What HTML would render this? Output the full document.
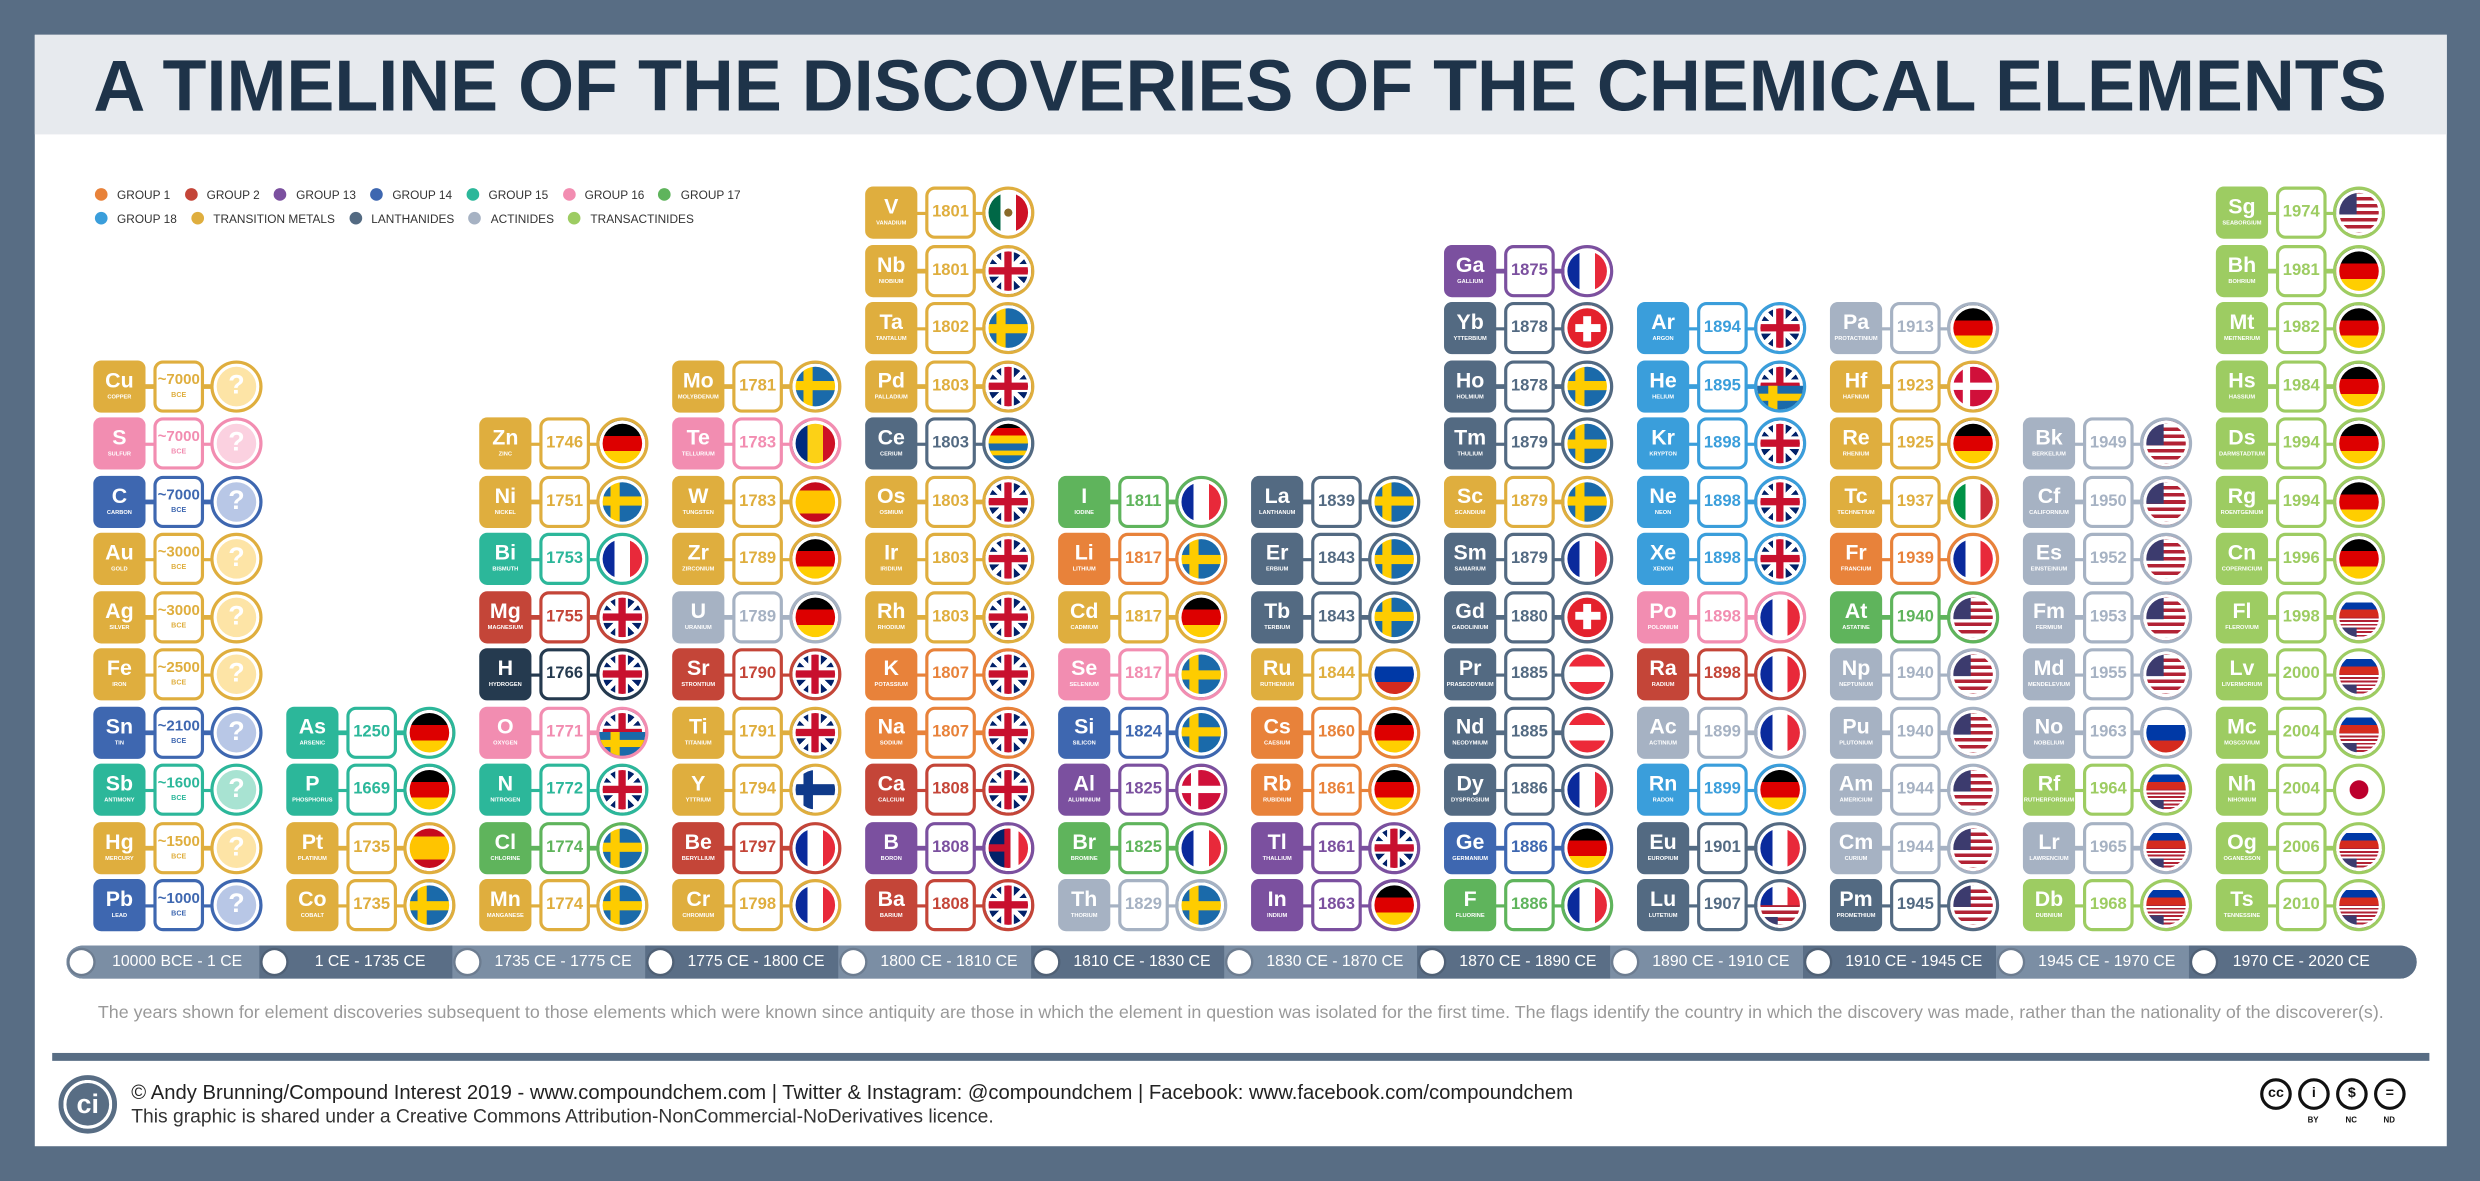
<!DOCTYPE html>
<html><head><meta charset="utf-8"><style>
*{margin:0;padding:0;box-sizing:border-box}
html,body{width:2480px;height:1181px;overflow:hidden;background:#586d84}
#st{position:absolute;left:0;top:0;width:1568px;height:747px;transform:scale(1.58163,1.581);transform-origin:0 0;font-family:"Liberation Sans",sans-serif}
#panel{position:absolute;left:22px;top:22px;width:1525px;height:703px;background:#fff}
#tb{position:absolute;left:22px;top:22px;width:1525px;height:63px;background:#e7eaee}
.leg{position:absolute;left:60px;font-size:7.5px;color:#333;white-space:nowrap}
.leg span{display:inline-block;margin-right:9px}
.leg span:before{content:"";display:inline-block;width:8px;height:8px;border-radius:50%;background:var(--c);vertical-align:-1px;margin-right:6px}
.col{position:absolute;bottom:158px;display:flex;flex-direction:column;gap:3.5px;width:108px}
.e{position:relative;height:33px;width:108px}
.e:before{content:"";position:absolute;left:30px;right:30px;top:15.5px;height:2.5px;background:var(--c)}
.e b{position:absolute;left:0;top:0;width:33px;height:33px;border-radius:5px;background:var(--c);color:#fff;text-align:center;font-size:13.5px;line-height:13px;padding-top:6px;font-weight:bold;font-family:"Liberation Sans Narrow","Liberation Sans",sans-serif}
.e b i{display:block;font-style:normal;font-size:3.6px;line-height:5px;margin-top:2px;letter-spacing:0;white-space:nowrap;overflow:hidden}
.e em{position:absolute;left:38px;top:0;width:32px;height:33px;border:2.3px solid var(--c);border-radius:6px;background:#fff;color:var(--c);font-style:normal;font-weight:bold;text-align:center;font-size:10.5px;line-height:28px;font-family:"Liberation Sans Narrow","Liberation Sans",sans-serif}
.e em.b{line-height:10px;padding-top:6px;font-size:9.5px}
.e em i{display:block;font-style:normal;font-size:4.5px;line-height:7px}
.f{position:absolute;left:74px;top:0;width:33px;height:33px;border-radius:50%;border:2.3px solid var(--c);box-shadow:inset 0 0 0 2px #fff;overflow:hidden;background:#ddd}
.f.h:after{content:"";position:absolute;left:0;right:0;bottom:0;height:50%;z-index:-1}
.f.h{isolation:isolate}
.q{color:#fff;font-weight:bold;font-size:17px;text-align:center;line-height:28px;background:var(--l)}
.tm{--c:#dfae3e;--l:#fde4a6}.t1{--c:#e8823a}.t2{--c:#c44538}.t13{--c:#7b509f}.t14{--c:#3e67b0;--l:#b8c7e6}.t15{--c:#2cb79a;--l:#a8e3d2}.t16{--c:#f28db1;--l:#fbd1e0}.t17{--c:#5fb45c}.t18{--c:#3a9edb}.ln{--c:#536a82}.ac{--c:#a6b2c3}.tr{--c:#9dcc62}.hy{--c:#253a4f}
.uk{background:linear-gradient(#c8102e,#c8102e) center/100% 16% no-repeat,linear-gradient(#c8102e,#c8102e) center/16% 100% no-repeat,linear-gradient(#fff,#fff) center/100% 28% no-repeat,linear-gradient(#fff,#fff) center/28% 100% no-repeat,linear-gradient(45deg,transparent 46%,#fff 46% 54%,transparent 54%),linear-gradient(-45deg,transparent 46%,#fff 46% 54%,transparent 54%),#012169}
.se{background:linear-gradient(#fecc00,#fecc00) 0 50%/100% 20% no-repeat,linear-gradient(#fecc00,#fecc00) 30% 0/20% 100% no-repeat,#1a6aaa}
.fi{background:linear-gradient(#0f3a8a,#0f3a8a) 0 50%/100% 24% no-repeat,linear-gradient(#0f3a8a,#0f3a8a) 30% 0/22% 100% no-repeat,#fff}
.dk{background:linear-gradient(#fff,#fff) 0 50%/100% 16% no-repeat,linear-gradient(#fff,#fff) 32% 0/16% 100% no-repeat,#d0103a}
.ch{background:linear-gradient(#fff,#fff) center/55% 18% no-repeat,linear-gradient(#fff,#fff) center/18% 55% no-repeat,#e4212c}
.de{background:linear-gradient(#000 33.3%,#dd0000 33.3% 66.6%,#ffce00 66.6%)}
.fr{background:linear-gradient(90deg,#0a2a9c 33.3%,#fff 33.3% 66.6%,#e8293a 66.6%)}
.it{background:linear-gradient(90deg,#009246 33.3%,#fff 33.3% 66.6%,#ce2b37 66.6%)}
.mx{background:radial-gradient(circle,#8a6a2a 12%,transparent 13%),linear-gradient(90deg,#006847 33.3%,#fff 33.3% 66.6%,#ce1126 66.6%)}
.ro{background:linear-gradient(90deg,#002b7f 33.3%,#fcd116 33.3% 66.6%,#ce1126 66.6%)}
.ru{background:linear-gradient(#fff 33.3%,#0039a6 33.3% 66.6%,#d52b1e 66.6%)}
.at{background:linear-gradient(#ed2939 33.3%,#fff 33.3% 66.6%,#ed2939 66.6%)}
.es{background:linear-gradient(#c60b1e 25%,#ffc400 25% 75%,#c60b1e 75%)}
.us{background:linear-gradient(#3c3b6e,#3c3b6e) 0 0/45% 54% no-repeat,repeating-linear-gradient(#b22234 0 7.7%,#fff 7.7% 15.4%)}
.jp{background:radial-gradient(circle,#bc002d 28%,#fff 30%)}
.rs{background:linear-gradient(#fff 0 17%,#0039a6 17% 33%,#d52b1e 33% 50%,transparent 50%),linear-gradient(#3c3b6e,#3c3b6e) 0 100%/45% 27% no-repeat,repeating-linear-gradient(#b22234 0 4%,#fff 4% 8%)}
.hse:after{background:linear-gradient(#fecc00,#fecc00) 0 50%/100% 30% no-repeat,linear-gradient(#fecc00,#fecc00) 30% 0/20% 100% no-repeat,#1a6aaa}
.bfr{background:linear-gradient(90deg,transparent 55%,#fff 55% 72%,#e8293a 72%),linear-gradient(#c8102e,#c8102e) center/100% 16% no-repeat,linear-gradient(#c8102e,#c8102e) center/16% 100% no-repeat,#012169}
.lus{background:linear-gradient(90deg,#0a2a9c 33.3%,#fff 33.3% 66.6%,#e8293a 66.6%) 0 0/100% 50% no-repeat,linear-gradient(#3c3b6e,#3c3b6e) 0 100%/45% 25% no-repeat,repeating-linear-gradient(#b22234 0 7.7%,#fff 7.7% 15.4%)}
#tl{position:absolute;left:42px;top:598px;width:1486px;height:21px;border-radius:11px;background:#5a6e86;overflow:hidden}
.sg{position:absolute;top:0;height:21px;width:122px;color:#fff;font-family:"Liberation Sans Narrow","Liberation Sans",sans-serif;font-size:10px;line-height:21px;text-align:center;padding-left:18px}
.sg.l{background:#7b8ea4}
.sg.d{background:#5a6e86}
.sg:before{content:"";position:absolute;left:2px;top:3px;width:15px;height:15px;border-radius:50%;background:#fff;box-shadow:0 0 0 1.5px rgba(0,0,0,.12)}
#note{position:absolute;left:22px;width:1525px;top:635px;text-align:center;font-size:11.3px;color:#999;white-space:nowrap}
#sep{position:absolute;left:33px;top:666px;width:1503px;height:5px;background:#586d84}
#ci{position:absolute;left:37px;top:680px;width:37px;height:37px;border-radius:50%;background:#586d84;border:3px solid #586d84;box-shadow:inset 0 0 0 2px #fff;color:#fff;font-weight:bold;font-size:17px;text-align:center;line-height:31px}
#ft1{position:absolute;left:83px;top:683px;font-size:12.8px;color:#222;white-space:nowrap}
#ft2{position:absolute;left:83px;top:699px;font-size:12.2px;color:#333;white-space:nowrap}
.cc{position:absolute;top:682px;width:20px;height:20px;border:2.5px solid #111;border-radius:50%;font-size:9px;font-weight:bold;text-align:center;line-height:15px;color:#111}
.ccl{position:absolute;top:706px;font-size:5px;font-weight:bold;color:#111}
</style></head><body><div id="st">
<div id="panel"></div><div id="tb"></div>
<svg style="position:absolute;left:0;top:22px" width="1568" height="63"><text x="784" y="48" text-anchor="middle" textLength="1450" lengthAdjust="spacingAndGlyphs" font-family="Liberation Sans,sans-serif" font-weight="bold" font-size="46" fill="#1e3349">A TIMELINE OF THE DISCOVERIES OF THE CHEMICAL ELEMENTS</text></svg>
<div class="leg" style="top:119px"><span class="t1">GROUP 1</span><span class="t2">GROUP 2</span><span class="t13">GROUP 13</span><span class="t14">GROUP 14</span><span class="t15">GROUP 15</span><span class="t16">GROUP 16</span><span class="t17">GROUP 17</span></div>
<div class="leg" style="top:134px"><span class="t18">GROUP 18</span><span class="tm">TRANSITION METALS</span><span class="ln">LANTHANIDES</span><span class="ac">ACTINIDES</span><span class="tr">TRANSACTINIDES</span></div>

<div class="col" style="left:59px">
<div class="e tm"><b>Cu<i>COPPER</i></b><em class="b">~7000<i>BCE</i></em><span class="f q">?</span></div>
<div class="e t16"><b>S<i>SULFUR</i></b><em class="b">~7000<i>BCE</i></em><span class="f q">?</span></div>
<div class="e t14"><b>C<i>CARBON</i></b><em class="b">~7000<i>BCE</i></em><span class="f q">?</span></div>
<div class="e tm"><b>Au<i>GOLD</i></b><em class="b">~3000<i>BCE</i></em><span class="f q">?</span></div>
<div class="e tm"><b>Ag<i>SILVER</i></b><em class="b">~3000<i>BCE</i></em><span class="f q">?</span></div>
<div class="e tm"><b>Fe<i>IRON</i></b><em class="b">~2500<i>BCE</i></em><span class="f q">?</span></div>
<div class="e t14"><b>Sn<i>TIN</i></b><em class="b">~2100<i>BCE</i></em><span class="f q">?</span></div>
<div class="e t15"><b>Sb<i>ANTIMONY</i></b><em class="b">~1600<i>BCE</i></em><span class="f q">?</span></div>
<div class="e tm"><b>Hg<i>MERCURY</i></b><em class="b">~1500<i>BCE</i></em><span class="f q">?</span></div>
<div class="e t14"><b>Pb<i>LEAD</i></b><em class="b">~1000<i>BCE</i></em><span class="f q">?</span></div>
</div>

<div class="col" style="left:181px">
<div class="e t15"><b>As<i>ARSENIC</i></b><em>1250</em><span class="f de"></span></div>
<div class="e t15"><b>P<i>PHOSPHORUS</i></b><em>1669</em><span class="f de"></span></div>
<div class="e tm"><b>Pt<i>PLATINUM</i></b><em>1735</em><span class="f es"></span></div>
<div class="e tm"><b>Co<i>COBALT</i></b><em>1735</em><span class="f se"></span></div>
</div>

<div class="col" style="left:303px">
<div class="e tm"><b>Zn<i>ZINC</i></b><em>1746</em><span class="f de"></span></div>
<div class="e tm"><b>Ni<i>NICKEL</i></b><em>1751</em><span class="f se"></span></div>
<div class="e t15"><b>Bi<i>BISMUTH</i></b><em>1753</em><span class="f fr"></span></div>
<div class="e t2"><b>Mg<i>MAGNESIUM</i></b><em>1755</em><span class="f uk"></span></div>
<div class="e hy"><b>H<i>HYDROGEN</i></b><em>1766</em><span class="f uk"></span></div>
<div class="e t16"><b>O<i>OXYGEN</i></b><em>1771</em><span class="f uk h hse"></span></div>
<div class="e t15"><b>N<i>NITROGEN</i></b><em>1772</em><span class="f uk"></span></div>
<div class="e t17"><b>Cl<i>CHLORINE</i></b><em>1774</em><span class="f se"></span></div>
<div class="e tm"><b>Mn<i>MANGANESE</i></b><em>1774</em><span class="f se"></span></div>
</div>

<div class="col" style="left:425px">
<div class="e tm"><b>Mo<i>MOLYBDENUM</i></b><em>1781</em><span class="f se"></span></div>
<div class="e t16"><b>Te<i>TELLURIUM</i></b><em>1783</em><span class="f ro"></span></div>
<div class="e tm"><b>W<i>TUNGSTEN</i></b><em>1783</em><span class="f es"></span></div>
<div class="e tm"><b>Zr<i>ZIRCONIUM</i></b><em>1789</em><span class="f de"></span></div>
<div class="e ac"><b>U<i>URANIUM</i></b><em>1789</em><span class="f de"></span></div>
<div class="e t2"><b>Sr<i>STRONTIUM</i></b><em>1790</em><span class="f uk"></span></div>
<div class="e tm"><b>Ti<i>TITANIUM</i></b><em>1791</em><span class="f uk"></span></div>
<div class="e tm"><b>Y<i>YTTRIUM</i></b><em>1794</em><span class="f fi"></span></div>
<div class="e t2"><b>Be<i>BERYLLIUM</i></b><em>1797</em><span class="f fr"></span></div>
<div class="e tm"><b>Cr<i>CHROMIUM</i></b><em>1798</em><span class="f fr"></span></div>
</div>

<div class="col" style="left:547px">
<div class="e tm"><b>V<i>VANADIUM</i></b><em>1801</em><span class="f mx"></span></div>
<div class="e tm"><b>Nb<i>NIOBIUM</i></b><em>1801</em><span class="f uk"></span></div>
<div class="e tm"><b>Ta<i>TANTALUM</i></b><em>1802</em><span class="f se"></span></div>
<div class="e tm"><b>Pd<i>PALLADIUM</i></b><em>1803</em><span class="f uk"></span></div>
<div class="e ln"><b>Ce<i>CERIUM</i></b><em>1803</em><span class="f se h" style="background:linear-gradient(#000 33%,#dd0000 33% 66%,#ffce00 66%) 0 0/100% 50% no-repeat,linear-gradient(#fecc00,#fecc00) 0 75%/100% 12% no-repeat,#1a6aaa"></span></div>
<div class="e tm"><b>Os<i>OSMIUM</i></b><em>1803</em><span class="f uk"></span></div>
<div class="e tm"><b>Ir<i>IRIDIUM</i></b><em>1803</em><span class="f uk"></span></div>
<div class="e tm"><b>Rh<i>RHODIUM</i></b><em>1803</em><span class="f uk"></span></div>
<div class="e t1"><b>K<i>POTASSIUM</i></b><em>1807</em><span class="f uk"></span></div>
<div class="e t1"><b>Na<i>SODIUM</i></b><em>1807</em><span class="f uk"></span></div>
<div class="e t2"><b>Ca<i>CALCIUM</i></b><em>1808</em><span class="f uk"></span></div>
<div class="e t13"><b>B<i>BORON</i></b><em>1808</em><span class="f bfr"></span></div>
<div class="e t2"><b>Ba<i>BARIUM</i></b><em>1808</em><span class="f uk"></span></div>
</div>

<div class="col" style="left:669px">
<div class="e t17"><b>I<i>IODINE</i></b><em>1811</em><span class="f fr"></span></div>
<div class="e t1"><b>Li<i>LITHIUM</i></b><em>1817</em><span class="f se"></span></div>
<div class="e tm"><b>Cd<i>CADMIUM</i></b><em>1817</em><span class="f de"></span></div>
<div class="e t16"><b>Se<i>SELENIUM</i></b><em>1817</em><span class="f se"></span></div>
<div class="e t14"><b>Si<i>SILICON</i></b><em>1824</em><span class="f se"></span></div>
<div class="e t13"><b>Al<i>ALUMINIUM</i></b><em>1825</em><span class="f dk"></span></div>
<div class="e t17"><b>Br<i>BROMINE</i></b><em>1825</em><span class="f fr"></span></div>
<div class="e ac"><b>Th<i>THORIUM</i></b><em>1829</em><span class="f se"></span></div>
</div>

<div class="col" style="left:791px">
<div class="e ln"><b>La<i>LANTHANUM</i></b><em>1839</em><span class="f se"></span></div>
<div class="e ln"><b>Er<i>ERBIUM</i></b><em>1843</em><span class="f se"></span></div>
<div class="e ln"><b>Tb<i>TERBIUM</i></b><em>1843</em><span class="f se"></span></div>
<div class="e tm"><b>Ru<i>RUTHENIUM</i></b><em>1844</em><span class="f ru"></span></div>
<div class="e t1"><b>Cs<i>CAESIUM</i></b><em>1860</em><span class="f de"></span></div>
<div class="e t1"><b>Rb<i>RUBIDIUM</i></b><em>1861</em><span class="f de"></span></div>
<div class="e t13"><b>Tl<i>THALLIUM</i></b><em>1861</em><span class="f uk"></span></div>
<div class="e t13"><b>In<i>INDIUM</i></b><em>1863</em><span class="f de"></span></div>
</div>

<div class="col" style="left:913px">
<div class="e t13"><b>Ga<i>GALLIUM</i></b><em>1875</em><span class="f fr"></span></div>
<div class="e ln"><b>Yb<i>YTTERBIUM</i></b><em>1878</em><span class="f ch"></span></div>
<div class="e ln"><b>Ho<i>HOLMIUM</i></b><em>1878</em><span class="f se"></span></div>
<div class="e ln"><b>Tm<i>THULIUM</i></b><em>1879</em><span class="f se"></span></div>
<div class="e tm"><b>Sc<i>SCANDIUM</i></b><em>1879</em><span class="f se"></span></div>
<div class="e ln"><b>Sm<i>SAMARIUM</i></b><em>1879</em><span class="f fr"></span></div>
<div class="e ln"><b>Gd<i>GADOLINIUM</i></b><em>1880</em><span class="f ch"></span></div>
<div class="e ln"><b>Pr<i>PRASEODYMIUM</i></b><em>1885</em><span class="f at"></span></div>
<div class="e ln"><b>Nd<i>NEODYMIUM</i></b><em>1885</em><span class="f at"></span></div>
<div class="e ln"><b>Dy<i>DYSPROSIUM</i></b><em>1886</em><span class="f fr"></span></div>
<div class="e t14"><b>Ge<i>GERMANIUM</i></b><em>1886</em><span class="f de"></span></div>
<div class="e t17"><b>F<i>FLUORINE</i></b><em>1886</em><span class="f fr"></span></div>
</div>

<div class="col" style="left:1035px">
<div class="e t18"><b>Ar<i>ARGON</i></b><em>1894</em><span class="f uk"></span></div>
<div class="e t18"><b>He<i>HELIUM</i></b><em>1895</em><span class="f uk h hse"></span></div>
<div class="e t18"><b>Kr<i>KRYPTON</i></b><em>1898</em><span class="f uk"></span></div>
<div class="e t18"><b>Ne<i>NEON</i></b><em>1898</em><span class="f uk"></span></div>
<div class="e t18"><b>Xe<i>XENON</i></b><em>1898</em><span class="f uk"></span></div>
<div class="e t16"><b>Po<i>POLONIUM</i></b><em>1898</em><span class="f fr"></span></div>
<div class="e t2"><b>Ra<i>RADIUM</i></b><em>1898</em><span class="f fr"></span></div>
<div class="e ac"><b>Ac<i>ACTINIUM</i></b><em>1899</em><span class="f fr"></span></div>
<div class="e t18"><b>Rn<i>RADON</i></b><em>1899</em><span class="f de"></span></div>
<div class="e ln"><b>Eu<i>EUROPIUM</i></b><em>1901</em><span class="f fr"></span></div>
<div class="e ln"><b>Lu<i>LUTETIUM</i></b><em>1907</em><span class="f lus"></span></div>
</div>

<div class="col" style="left:1157px">
<div class="e ac"><b>Pa<i>PROTACTINIUM</i></b><em>1913</em><span class="f de"></span></div>
<div class="e tm"><b>Hf<i>HAFNIUM</i></b><em>1923</em><span class="f dk"></span></div>
<div class="e tm"><b>Re<i>RHENIUM</i></b><em>1925</em><span class="f de"></span></div>
<div class="e tm"><b>Tc<i>TECHNETIUM</i></b><em>1937</em><span class="f it"></span></div>
<div class="e t1"><b>Fr<i>FRANCIUM</i></b><em>1939</em><span class="f fr"></span></div>
<div class="e t17"><b>At<i>ASTATINE</i></b><em>1940</em><span class="f us"></span></div>
<div class="e ac"><b>Np<i>NEPTUNIUM</i></b><em>1940</em><span class="f us"></span></div>
<div class="e ac"><b>Pu<i>PLUTONIUM</i></b><em>1940</em><span class="f us"></span></div>
<div class="e ac"><b>Am<i>AMERICIUM</i></b><em>1944</em><span class="f us"></span></div>
<div class="e ac"><b>Cm<i>CURIUM</i></b><em>1944</em><span class="f us"></span></div>
<div class="e ln"><b>Pm<i>PROMETHIUM</i></b><em>1945</em><span class="f us"></span></div>
</div>

<div class="col" style="left:1279px">
<div class="e ac"><b>Bk<i>BERKELIUM</i></b><em>1949</em><span class="f us"></span></div>
<div class="e ac"><b>Cf<i>CALIFORNIUM</i></b><em>1950</em><span class="f us"></span></div>
<div class="e ac"><b>Es<i>EINSTEINIUM</i></b><em>1952</em><span class="f us"></span></div>
<div class="e ac"><b>Fm<i>FERMIUM</i></b><em>1953</em><span class="f us"></span></div>
<div class="e ac"><b>Md<i>MENDELEVIUM</i></b><em>1955</em><span class="f us"></span></div>
<div class="e ac"><b>No<i>NOBELIUM</i></b><em>1963</em><span class="f ru"></span></div>
<div class="e tr"><b>Rf<i>RUTHERFORDIUM</i></b><em>1964</em><span class="f rs"></span></div>
<div class="e ac"><b>Lr<i>LAWRENCIUM</i></b><em>1965</em><span class="f rs"></span></div>
<div class="e tr"><b>Db<i>DUBNIUM</i></b><em>1968</em><span class="f rs"></span></div>
</div>

<div class="col" style="left:1401px">
<div class="e tr"><b>Sg<i>SEABORGIUM</i></b><em>1974</em><span class="f us"></span></div>
<div class="e tr"><b>Bh<i>BOHRIUM</i></b><em>1981</em><span class="f de"></span></div>
<div class="e tr"><b>Mt<i>MEITNERIUM</i></b><em>1982</em><span class="f de"></span></div>
<div class="e tr"><b>Hs<i>HASSIUM</i></b><em>1984</em><span class="f de"></span></div>
<div class="e tr"><b>Ds<i>DARMSTADTIUM</i></b><em>1994</em><span class="f de"></span></div>
<div class="e tr"><b>Rg<i>ROENTGENIUM</i></b><em>1994</em><span class="f de"></span></div>
<div class="e tr"><b>Cn<i>COPERNICIUM</i></b><em>1996</em><span class="f de"></span></div>
<div class="e tr"><b>Fl<i>FLEROVIUM</i></b><em>1998</em><span class="f rs"></span></div>
<div class="e tr"><b>Lv<i>LIVERMORIUM</i></b><em>2000</em><span class="f rs"></span></div>
<div class="e tr"><b>Mc<i>MOSCOVIUM</i></b><em>2004</em><span class="f rs"></span></div>
<div class="e tr"><b>Nh<i>NIHONIUM</i></b><em>2004</em><span class="f jp"></span></div>
<div class="e tr"><b>Og<i>OGANESSON</i></b><em>2006</em><span class="f rs"></span></div>
<div class="e tr"><b>Ts<i>TENNESSINE</i></b><em>2010</em><span class="f rs"></span></div>
</div>

<div id="tl">
<div class="sg l" style="left:0">10000 BCE - 1 CE</div>
<div class="sg d" style="left:122px">1 CE - 1735 CE</div>
<div class="sg l" style="left:244px">1735 CE - 1775 CE</div>
<div class="sg d" style="left:366px">1775 CE - 1800 CE</div>
<div class="sg l" style="left:488px">1800 CE - 1810 CE</div>
<div class="sg d" style="left:610px">1810 CE - 1830 CE</div>
<div class="sg l" style="left:732px">1830 CE - 1870 CE</div>
<div class="sg d" style="left:854px">1870 CE - 1890 CE</div>
<div class="sg l" style="left:976px">1890 CE - 1910 CE</div>
<div class="sg d" style="left:1098px">1910 CE - 1945 CE</div>
<div class="sg l" style="left:1220px">1945 CE - 1970 CE</div>
<div class="sg d" style="left:1342px;width:144px;padding-right:20px">1970 CE - 2020 CE</div>
</div>
<div id="note">The years shown for element discoveries subsequent to those elements which were known since antiquity are those in which the element in question was isolated for the first time. The flags identify the country in which the discovery was made, rather than the nationality of the discoverer(s).</div>
<div id="sep"></div>
<div id="ci">ci</div>
<div id="ft1">© Andy Brunning/Compound Interest 2019 - www.compoundchem.com | Twitter &amp; Instagram: @compoundchem | Facebook: www.facebook.com/compoundchem</div>
<div id="ft2">This graphic is shared under a Creative Commons Attribution-NonCommercial-NoDerivatives licence.</div>
<div class="cc" style="left:1429px">cc</div>
<div class="cc" style="left:1453px">i</div>
<div class="cc" style="left:1477px">$</div>
<div class="cc" style="left:1501px">=</div>
<div class="ccl" style="left:1459px">BY</div>
<div class="ccl" style="left:1483px">NC</div>
<div class="ccl" style="left:1507px">ND</div>
</div></body></html>
